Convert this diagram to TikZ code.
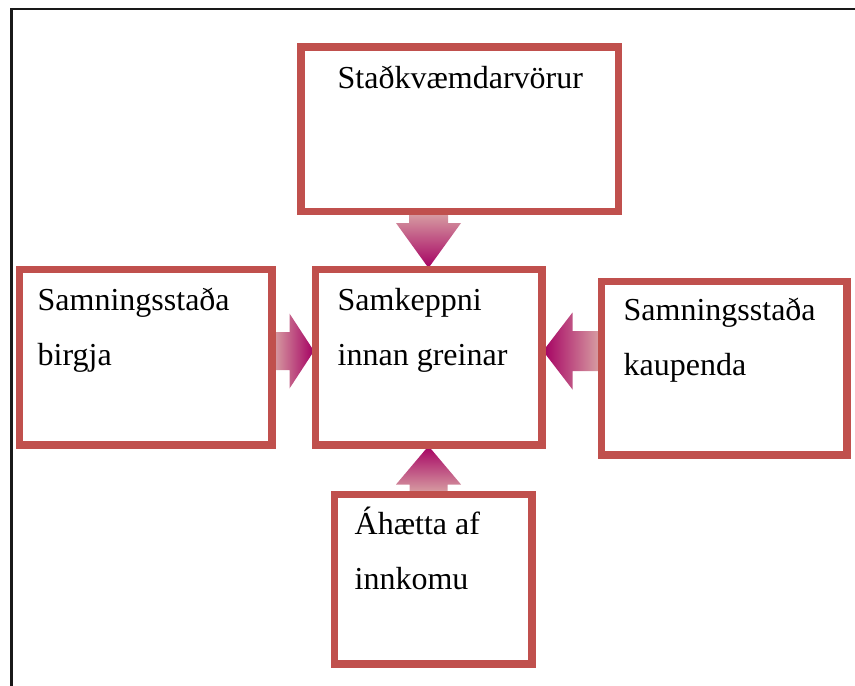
\documentclass[tikz,border=0pt]{standalone}
\usepackage{fontspec}
\setmainfont{Liberation Serif}
\usetikzlibrary{calc}
\definecolor{boxred}{RGB}{192,80,77}
\definecolor{arrowdeep}{RGB}{165,0,98}
\definecolor{arrowpale}{RGB}{216,160,163}
\tikzset{
  forcebox/.style={draw=boxred, line width=5pt, rectangle, inner sep=0pt},
  forcetext/.style={anchor=base west, align=left, inner sep=0pt, font=\fontsize{32}{55}\selectfont},
}
% #1 tail, #2 tip, #3 half shaft, #4 half head, #5 head length (pt), #6 shading
\newcommand{\blockarrow}[6]{%
  \path[#6] ($(#1)!#3pt!90:(#2)$) -- ($($(#2)!#5pt!(#1)$)!#3pt!-90:(#1)$)
    -- ($($(#2)!#5pt!(#1)$)!#4pt!-90:(#1)$) -- (#2)
    -- ($($(#2)!#5pt!(#1)$)!#4pt!90:(#1)$) -- ($($(#2)!#5pt!(#1)$)!#3pt!90:(#1)$)
    -- ($(#1)!#3pt!-90:(#2)$) -- cycle;}
\begin{document}
\begin{tikzpicture}[x=1pt, y=-1pt, line join=miter]
\useasboundingbox (0,0) rectangle (855,686);
\draw[line width=2.5pt, black!90] (11.5,686) |- (855,9);
% boxes
\node[forcebox, minimum width=315, minimum height=162] (subst) at (459.5,129) {};
\node[forcebox, minimum width=250, minimum height=173] (supp) at (145.5,357) {};
\node[forcebox, minimum width=224, minimum height=173] (rival) at (428.5,357) {};
\node[forcebox, minimum width=243, minimum height=171] (buyer) at (724,368) {};
\node[forcebox, minimum width=195, minimum height=167] (entry) at (433,579) {};
% arrows
\coordinate (lt) at ($(supp.east)+(0,-6)$);
\coordinate (rt) at (buyer.west |- lt);
\coordinate (ttail) at (rival.north |- subst.south);
\coordinate (btail) at (rival.south |- entry.north);
\coordinate (ltip) at (lt -| rival.west);
\coordinate (rtip) at (rt -| rival.east);
\blockarrow{ttail}{rival.north}{19.5}{32.5}{45}{top color=arrowpale, bottom color=arrowdeep}
\blockarrow{lt}{ltip}{19}{37.5}{24.5}{left color=arrowpale, right color=arrowdeep}
\blockarrow{rt}{rtip}{20}{38.5}{29.5}{left color=arrowdeep, right color=arrowpale}
\blockarrow{btail}{rival.south}{19}{32.5}{38.5}{top color=arrowdeep, bottom color=arrowpale}
% redraw boxes over arrows
\foreach \b in {subst,supp,rival,buyer,entry}
  \draw[boxred, line width=5pt] (\b.north west) rectangle (\b.south east);
% texts (base is the last line)
\node[forcetext] (substtxt) at ($(subst.north west)+(38,43)$) {Staðkvæmdarvörur};
\node[forcetext] (supptxt) at ($(supp.north west)+(19.5,97.5)$) {Samningsstaða\\birgja};
\node[forcetext] (rivaltxt) at ($(rival.north west)+(23.5,97.5)$) {Samkeppni\\innan greinar};
\node[forcetext] (buyertxt) at ($(buyer.north west)+(23.5,95.5)$) {Samningsstaða\\kaupenda};
\node[forcetext] (entrytxt) at ($(entry.north west)+(21.5,96.5)$) {Áhætta af\\innkomu};
\end{tikzpicture}
\end{document}
